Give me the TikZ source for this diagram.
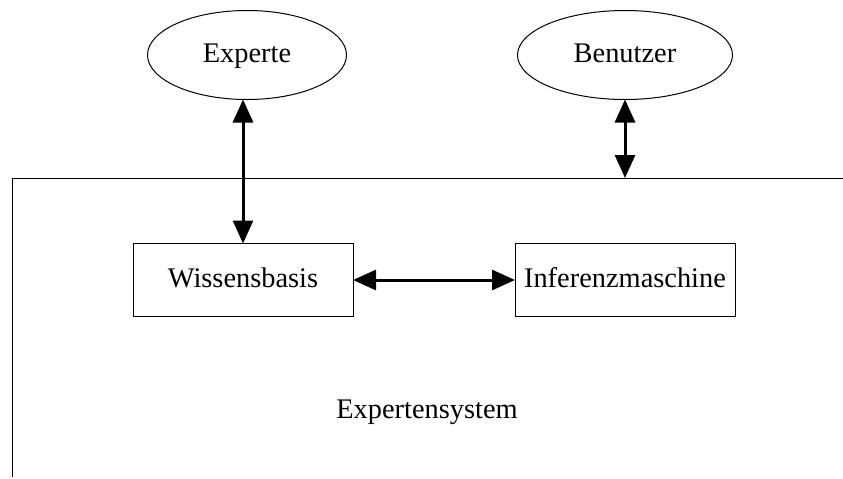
\documentclass[tikz,border=0pt]{standalone}
\usepackage{fontspec}
\setmainfont{Liberation Serif}
\usepackage{tikz}
\usetikzlibrary{shapes}
\usetikzlibrary{positioning}
\usetikzlibrary{arrows.meta}
\tikzset{every node/.style={inner sep=0pt, outer sep=0pt, font=\fontsize{14.2}{17}\selectfont}}
\tikzset{actor/.style={ellipse, draw=black, line width=0.5pt, minimum height=44.5pt, text height=10pt, text depth=3pt}}
\tikzset{modul/.style={rectangle, draw=black, line width=0.5pt, minimum width=110pt, minimum height=36.5pt, text height=10pt, text depth=3pt}}
\tikzset{verbindung/.style={line width=1.5pt, {Triangle[length=11.5pt,width=10pt]}-{Triangle[length=11.5pt,width=10pt]}}}

\begin{document}
\begin{tikzpicture}[x=0.5pt,y=-0.5pt]
    \useasboundingbox (0,0) rectangle (843,478);

    \node[actor,minimum width=99.5pt] (Experte) at (247,55) {Experte};
    \node[actor,minimum width=107.5pt] (Benutzer) at (625,55) {Benutzer};

    % Systemgrenze
    \coordinate (GrenzeRechts) at (843,178);
    \coordinate (GrenzeEcke) at (12,178);
    \coordinate (GrenzeUnten) at (12,477);
    \draw[line width=0.5pt] (GrenzeRechts) -- (GrenzeEcke) -- (GrenzeUnten);

    \node[modul] (Wissen) at (243,280) {Wissensbasis};
    \node[modul] (Inferenz) at (625,280) {Inferenzmaschine};
    \node (System) at (427,412) {Expertensystem};

    \draw[verbindung] (Experte.south -| Wissen.north) -- (Wissen.north);
    \draw[verbindung] (Benutzer.south) -- (Benutzer.south |- GrenzeEcke);
    \draw[verbindung] (Wissen.east) -- (Inferenz.west);

\end{tikzpicture}
\end{document}
